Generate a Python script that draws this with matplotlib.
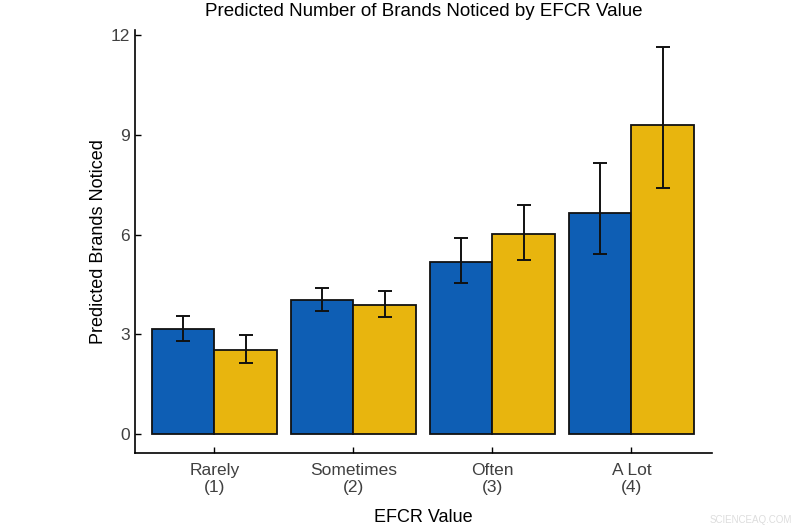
import numpy as np
import matplotlib.pyplot as plt

plt.rcParams['font.family'] = ['Liberation Sans', 'DejaVu Sans']

categories = ['Rarely\n(1)', 'Sometimes\n(2)', 'Often\n(3)', 'A Lot\n(4)']
blue_vals = [3.17, 4.04, 5.19, 6.66]
blue_lo = [2.79, 3.71, 4.55, 5.42]
blue_hi = [3.56, 4.40, 5.89, 8.17]
yellow_vals = [2.52, 3.90, 6.02, 9.29]
yellow_lo = [2.13, 3.51, 5.25, 7.41]
yellow_hi = [2.98, 4.31, 6.88, 11.63]
yticks = [0, 3, 6, 9, 12]

blue = '#0E5EB4'
yellow = '#E8B50E'

fig = plt.figure(figsize=(8, 5.3), dpi=100)
ax = fig.add_axes([0.169, 0.145, 0.721, 0.798])

x = np.arange(1, len(categories) + 1)
w = 0.45
bv = np.array(blue_vals)
yv = np.array(yellow_vals)
berr = [bv - np.array(blue_lo), np.array(blue_hi) - bv]
yerr = [yv - np.array(yellow_lo), np.array(yellow_hi) - yv]

ax.bar(x - w/2, bv, width=w, color=blue, edgecolor='#111111', linewidth=1.3)
ax.bar(x + w/2, yv, width=w, color=yellow, edgecolor='#111111', linewidth=1.3)
ax.errorbar(x - w/2, bv, yerr=berr, fmt='none', ecolor='#111111', elinewidth=1.4, capsize=5, capthick=1.4)
ax.errorbar(x + w/2, yv, yerr=yerr, fmt='none', ecolor='#111111', elinewidth=1.4, capsize=5, capthick=1.4)

ax.set_xlim(0.43, 4.58)
ax.set_ylim(-0.57, 12.15)
ax.set_xticks(x)
ax.set_xticklabels(categories, fontsize=12.5, color='#404040', linespacing=1.15)
ax.set_yticks(yticks)
ax.set_yticklabels([str(t) for t in yticks], fontsize=12.5, color='#404040')
ax.tick_params(direction='in', length=4, width=1)
ax.tick_params(axis='x', pad=7)
ax.tick_params(axis='y', pad=4)

for s in ['top', 'right']:
    ax.spines[s].set_visible(False)
for s in ['left', 'bottom']:
    ax.spines[s].set_linewidth(1.2)

ax.set_title('Predicted Number of Brands Noticed by EFCR Value', fontsize=13.5, pad=10)
ax.set_xlabel('EFCR Value', fontsize=13, labelpad=10)
ax.set_ylabel('Predicted Brands Noticed', fontsize=13, labelpad=2)

fig.text(0.99, 0.01, 'SCIENCEAQ.COM', fontsize=7, color='#dddddd', ha='right', va='bottom')

fig.savefig('out.png', dpi=100)
